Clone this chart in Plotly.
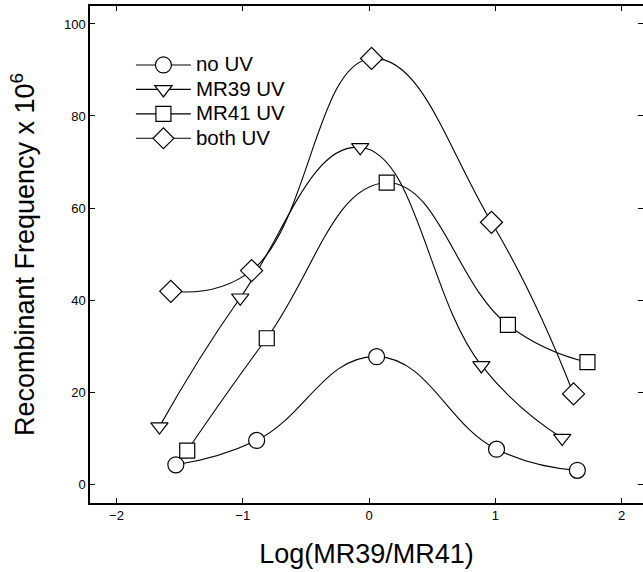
import plotly.graph_objects as go

series_names = ["no UV", "MR39 UV", "MR41 UV", "both UV"]
x_noUV = [-1.53, -0.89, 0.06, 1.01, 1.65]
y_noUV = [4.2, 9.5, 27.7, 7.6, 3.0]
x_mr39 = [-1.66, -1.02, -0.07, 0.89, 1.53]
y_mr39 = [12.5, 40.5, 73.2, 25.8, 10.0]
x_mr41 = [-1.44, -0.81, 0.14, 1.10, 1.73]
y_mr41 = [7.3, 31.7, 65.5, 34.6, 26.5]
x_both = [-1.57, -0.93, 0.02, 0.97, 1.62]
y_both = [41.9, 46.4, 92.5, 56.9, 19.6]

x_ticks = [-2, -1, 0, 1, 2]
y_ticks = [0, 20, 40, 60, 80, 100]

symbols = ["circle", "triangle-down", "square", "diamond"]
sizes = [16, 15, 15, 17]
xs = [x_noUV, x_mr39, x_mr41, x_both]
ys = [y_noUV, y_mr39, y_mr41, y_both]

fig = go.Figure()
for name, x, y, sym, sz in zip(series_names, xs, ys, symbols, sizes):
    fig.add_trace(go.Scatter(
        x=x, y=y, name="<span style='font-size:20.5px'>" + name + "</span>",
        mode="lines+markers",
        line=dict(shape="spline", smoothing=1.3, color="black", width=1.1),
        marker=dict(symbol=sym, size=sz, color="white",
                    line=dict(color="black", width=1.2)),
    ))
# empty helper trace so the mirrored right-hand tick axis is drawn
fig.add_trace(go.Scatter(x=[], y=[], yaxis="y2", showlegend=False, hoverinfo="skip"))

font = "Liberation Sans, Arial, sans-serif"
yr = [-4.1, 103.9]
fig.update_layout(
    width=643, height=572,
    margin=dict(l=90, r=0, t=6, b=69),
    paper_bgcolor="white", plot_bgcolor="white",
    font=dict(family=font, color="black", size=13),
    showlegend=True,
    legend=dict(x=0.074, y=0.916, xanchor="left", yanchor="top",
                bgcolor="rgba(0,0,0,0)", font=dict(size=16.5, family=font),
                itemwidth=55, tracegroupgap=0),
    xaxis=dict(range=[-2.21, 2.17], tickvals=x_ticks,
               ticks="inside", ticklen=5, tickcolor="black",
               showline=True, linecolor="black", linewidth=1.5, mirror="ticks",
               showgrid=False, zeroline=False,
               tickfont=dict(size=13),
               title=dict(text="Log(MR39/MR41)", font=dict(size=27), standoff=22)),
    yaxis=dict(range=yr, tickvals=y_ticks,
               ticks="inside", ticklen=5, tickcolor="black",
               showline=True, linecolor="black", linewidth=1.5,
               showgrid=False, zeroline=False,
               tickfont=dict(size=13),
               title=dict(text="Recombinant Frequency x 10<sup>6</sup>", font=dict(size=27), standoff=21)),
    yaxis2=dict(range=yr, tickvals=y_ticks, overlaying="y", side="right",
                anchor="x", ticks="inside", ticklen=5, tickcolor="black",
                showticklabels=False, showline=False, showgrid=False, zeroline=False),
)

fig.write_html("out.html")
